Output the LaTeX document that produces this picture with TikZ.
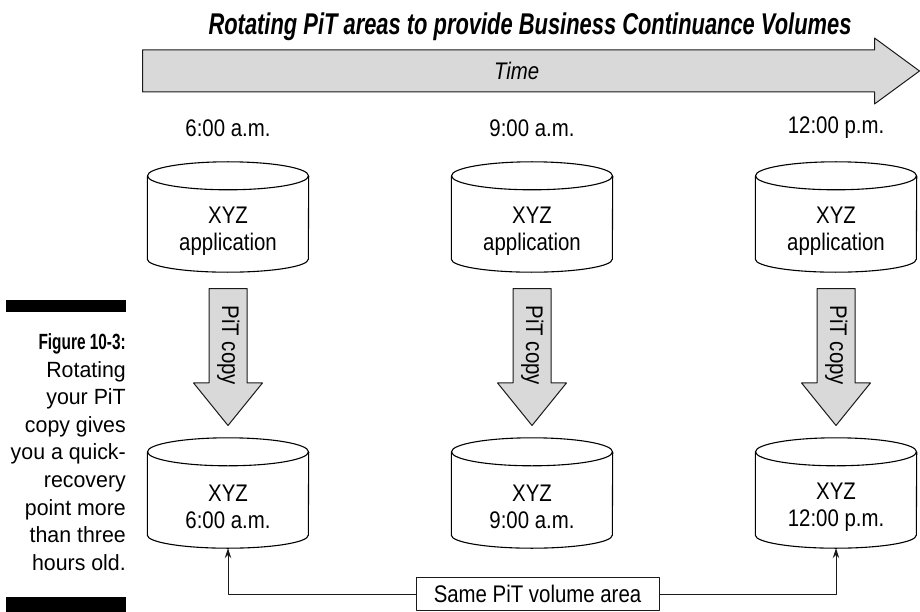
\documentclass[tikz,border=0pt]{standalone}
\usepackage{fontspec}
\setmainfont{Liberation Sans}[FakeStretch=0.85]
\newfontfamily\titlefont{Liberation Sans}[FakeStretch=0.73]
\newfontfamily\capfont{Liberation Sans}[FakeStretch=0.97]
\newfontfamily\capboldfont{Liberation Sans}[FakeStretch=0.7]
\usetikzlibrary{shapes.arrows,arrows.meta}

\definecolor{band}{HTML}{D9D9D9}
\definecolor{edge}{HTML}{1A1A1A}

\newcommand\drawdrum[1]{%
  \draw[drum] ([yshift=14pt]#1.north west) -- ([yshift=13pt]#1.south west)
    arc[start angle=180, end angle=0, x radius=80.5, y radius=13]
    -- ([yshift=14pt]#1.north east);
  \draw[drum] ([yshift=14pt]#1.north) ellipse[x radius=80.5, y radius=14];
}

\begin{document}
\begin{tikzpicture}[
  x=1pt, y=-1pt,
  line join=round,
  every node/.style={font=\fontsize{24}{27}\selectfont, inner sep=2pt},
  drum/.style={draw=black, line width=1.1pt},
  drumface/.style={minimum width=161pt, minimum height=82pt, align=center, inner sep=0pt},
  block/.style={single arrow, draw=edge, fill=band, line width=1pt, single arrow head indent=0pt},
  pitcopy/.style={block, rotate=-90, anchor=tail, minimum height=137pt, minimum width=68pt,
    text height=16pt, text depth=4pt,
    inner ysep=8.5pt, single arrow head extend=15.5pt, single arrow tip angle=78},
  timeline/.style={block, anchor=tail, minimum height=777pt, minimum width=66pt,
    text height=17pt, text depth=0pt,
    inner ysep=12pt, single arrow head extend=12pt, single arrow tip angle=72.5,
    font=\fontsize{24}{27}\selectfont\itshape},
  tag/.style={draw=edge, line width=1pt, minimum width=243pt, minimum height=33pt, inner sep=0pt},
  link/.style={draw=edge, line width=1pt, -{Stealth[length=10pt,width=6.5pt]}},
  bar/.style={fill=black},
]
\useasboundingbox (0,0) rectangle (920,612);

\node[font=\titlefont\bfseries\itshape\fontsize{30}{32}\selectfont] (title) at (530,27)
  {Rotating PiT areas to provide Business Continuance Volumes};
\node[timeline] (timeaxis) at (142,71) {Time};

\node (t6) at (228,128) {6:00 a.m.};
\node (t9) at (532,128) {9:00 a.m.};
\node (t12) at (836,128) {12:00 p.m.};

\node[drumface] (app6) at (228,231) {XYZ\\application};
\node[drumface] (app9) at (532,231) {XYZ\\application};
\node[drumface] (app12) at (836,231) {XYZ\\application};
\drawdrum{app6}
\drawdrum{app9}
\drawdrum{app12}

\node[pitcopy] (copy6) at (228,288) {PiT copy};
\node[pitcopy] (copy9) at (532,288) {PiT copy};
\node[pitcopy] (copy12) at (836,288) {PiT copy};

\node[drumface] (snap6) at (228,507) {XYZ\\6:00 a.m.};
\node[drumface] (snap9) at (532,507) {XYZ\\9:00 a.m.};
\node[drumface] (snap12) at (836,507) {XYZ\\12:00 p.m.};
\drawdrum{snap6}
\drawdrum{snap9}
\drawdrum{snap12}

\node[tag] (shared) at (537.5,594) {Same PiT volume area};
\draw[link] (shared.west) -| (snap6.south);
\draw[link] (shared.east) -| (snap12.south);

\fill[bar] (6,300) rectangle (126,312);
\fill[bar] (6,597) rectangle (126,612);
\node[anchor=east, align=right, inner sep=0pt, font=\capfont\fontsize{22}{27.6}\selectfont] (caption) at (126,452)
  {{\capboldfont\bfseries Figure 10-3:}\\Rotating\\your PiT\\copy gives\\you a quick-\\recovery\\point more\\than three\\hours old.};
\end{tikzpicture}
\end{document}
